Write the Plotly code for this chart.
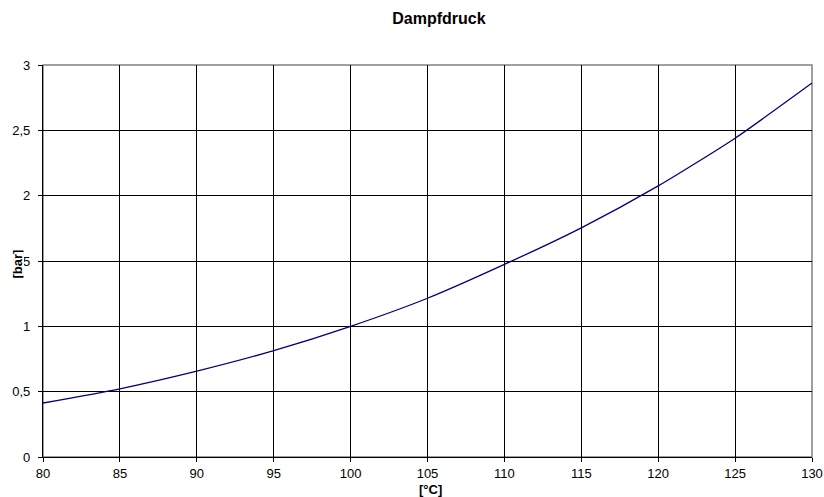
import plotly.graph_objects as go

temps = [80, 85, 90, 95, 100, 105, 110, 115, 120, 125, 130]
pressure = [0.413, 0.522, 0.657, 0.814, 1.0, 1.215, 1.474, 1.754, 2.075, 2.44, 2.862]

x_ticks = [80, 85, 90, 95, 100, 105, 110, 115, 120, 125, 130]
y_ticks = [0, 0.5, 1, 1.5, 2, 2.5, 3]
y_ticktext = ["0", "0,5", "1", "1,5", "2", "2,5", "3"]

FONT = "Liberation Sans, Arial, sans-serif"

W, H = 824, 497
L, R, T, B = 43, 12, 65, 40

fig = go.Figure()
fig.add_trace(go.Scatter(
    x=temps, y=pressure, mode="lines",
    line=dict(color="#000080", width=1.3, shape="spline", smoothing=0.6),
    showlegend=False, hoverinfo="skip",
))

fig.add_shape(type="rect", xref="paper", yref="paper", x0=0, y0=0, x1=1, y1=1,
              line=dict(color="#808080", width=1.5), layer="below")

pw = W - L - R
ph = H - T - B

fig.update_layout(
    width=W, height=H,
    margin=dict(l=L, r=R, t=T, b=B, autoexpand=False),
    paper_bgcolor="white", plot_bgcolor="white",
    font=dict(family=FONT, size=13, color="black"),
    title=dict(text="<b>Dampfdruck</b>", x=439 / W, xanchor="center", xref="container",
               y=1 - 18 / H, yanchor="middle", yref="container",
               font=dict(family=FONT, size=16, color="black")),
    xaxis=dict(range=[80, 130], tickvals=x_ticks, ticktext=[str(v) for v in x_ticks],
               showgrid=True, gridcolor="black", gridwidth=1,
               showline=True, linecolor="black", linewidth=1.2,
               ticks="outside", ticklen=4, tickcolor="black", automargin=False,
               zeroline=False, tickfont=dict(size=13)),
    yaxis=dict(range=[0, 3], tickvals=y_ticks, ticktext=y_ticktext,
               showgrid=True, gridcolor="black", gridwidth=1,
               showline=True, linecolor="black", linewidth=1.2,
               ticks="outside", ticklen=4, tickcolor="black", ticklabelstandoff=5,
               automargin=False, zeroline=False, tickfont=dict(size=13)),
    annotations=[
        dict(text="<b>[°C]</b>", xref="paper", yref="paper",
             x=(430 - L) / pw, y=-(489 - (H - B)) / ph,
             xanchor="center", yanchor="middle", showarrow=False,
             font=dict(family=FONT, size=13, color="black")),
        dict(text="<b>[bar]</b>", xref="paper", yref="paper",
             x=-(L - 16.5) / pw, y=((H - B) - 264) / ph,
             xanchor="center", yanchor="middle", showarrow=False, textangle=-90,
             bgcolor="white", borderpad=0, height=13,
             font=dict(family=FONT, size=13, color="black")),
    ],
)

fig.write_html("out.html", config={"displayModeBar": False},
               post_script="document.body.style.margin='0';document.body.style.overflow='hidden';")
